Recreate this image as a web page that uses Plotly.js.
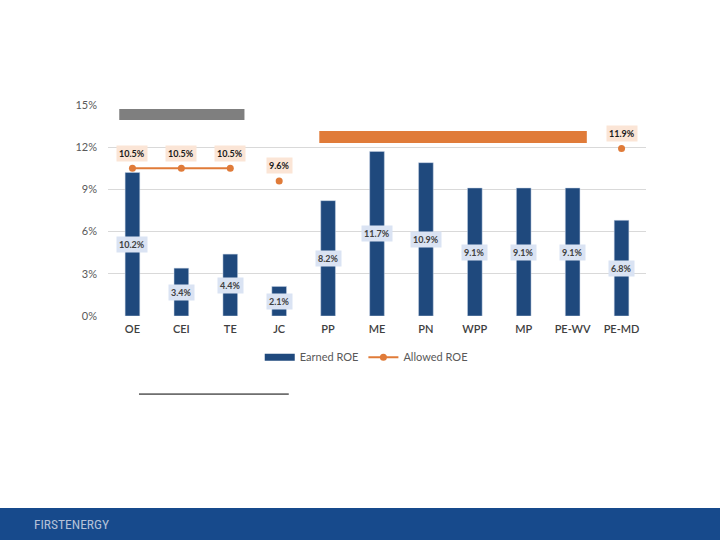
<!DOCTYPE html>
<html>
<head>
<meta charset="utf-8">
<script src="https://cdn.plot.ly/plotly-3.0.1.min.js"></script>
<style>html,body{margin:0;padding:0;background:#fff;}#chart{width:720px;height:540px;}</style>
</head>
<body>
<div id="chart"></div>
<script>
var categories = ["OE","CEI","TE","JC","PP","ME","PN","WPP","MP","PE-WV","PE-MD"];
var earnedROE = [10.2,3.4,4.4,2.1,8.2,11.7,10.9,9.1,9.1,9.1,6.8];
var allowedROE = [10.5,10.5,10.5,9.6,null,null,null,null,null,null,11.9];
var yTickVals = [0,3,6,9,12,15];
var yTickText = ["0%","3%","6%","9%","12%","15%"];

var FONT = "Lato, 'Open Sans', sans-serif";
var BLUE = "#1f497d";
var ORANGE = "#e07b39";

var lineY = allowedROE.map(function(v,i){ return i < 3 ? v : null; });
var dotY = allowedROE.map(function(v,i){ return i >= 3 ? v : null; });

var traces = [
  {type:"bar", name:"Earned ROE", x:categories, y:earnedROE, width:0.3, showlegend:false,
   marker:{color:BLUE, line:{color:"#c9d4e6", width:0.5}}, hoverinfo:"none"},
  {type:"scatter", mode:"lines", name:"Earned ROE", x:[categories[0]], y:[null],
   line:{color:BLUE, width:7}, hoverinfo:"none"},
  {type:"scatter", mode:"lines+markers", name:"Allowed ROE", x:categories, y:lineY,
   line:{color:ORANGE, width:2}, marker:{color:ORANGE, size:7}, connectgaps:false,
   legendgroup:"a", hoverinfo:"none"},
  {type:"scatter", mode:"markers", name:"Allowed ROE", x:categories, y:dotY,
   marker:{color:ORANGE, size:7}, showlegend:false, legendgroup:"a", hoverinfo:"none"}
];

var annotations = [];
earnedROE.forEach(function(v,i){
  annotations.push({x:categories[i], y:v/2, xref:"x", yref:"y", text:"<b>"+v.toFixed(1)+"%</b>",
    showarrow:false, bgcolor:"#dae3f3", borderpad:2,
    font:{family:FONT, size:9, color:"#404040"}});
});
allowedROE.forEach(function(v,i){
  if (v === null) return;
  annotations.push({x:categories[i], y:v, xref:"x", yref:"y", yshift:15, text:"<b>"+v.toFixed(1)+"%</b>",
    showarrow:false, bgcolor:"#fbe5d6", borderpad:2,
    font:{family:FONT, size:9, color:"#1a1a1a"}});
});
annotations.push({xref:"paper", yref:"paper", x:-0.142, y:-0.985, xanchor:"left", yanchor:"middle",
  text:"FIRSTENERGY", showarrow:false,
  font:{family:"'Liberation Sans Narrow', 'Roboto Condensed', Roboto, sans-serif", size:13.5, color:"#b4c1d8"}});

var shapes = [
  {type:"rect", xref:"x", yref:"y", x0:-0.27, x1:2.29, y0:13.93, y1:14.72,
   fillcolor:"#7f7f7f", line:{width:0}, layer:"above"},
  {type:"rect", xref:"x", yref:"y", x0:3.82, x1:9.29, y0:12.30, y1:13.15,
   fillcolor:ORANGE, line:{width:0}, layer:"above"},
  {type:"line", xref:"paper", yref:"paper", x0:0.0576, x1:0.336, y0:-0.370, y1:-0.370,
   line:{color:"#000000", width:1}},
  {type:"rect", xref:"paper", yref:"paper", x0:-0.21, x1:1.15, y0:-0.91, y1:-1.07,
   fillcolor:"#174a8c", line:{width:0}}
];

var layout = {
  width:720, height:540,
  margin:{l:108, r:74, t:105, b:224},
  paper_bgcolor:"#ffffff", plot_bgcolor:"#ffffff",
  font:{family:FONT, size:10, color:"#595959"},
  bargap:0.7,
  xaxis:{type:"category", range:[-0.5,10.5], showgrid:false, zeroline:false,
    showline:false, ticks:"", ticklabelstandoff:5,
    tickfont:{family:FONT, size:11, color:"#404040", weight:600}, fixedrange:true},
  yaxis:{range:[0,15], tickvals:yTickVals, ticktext:yTickText, showgrid:true,
    gridcolor:"#d9d9d9", gridwidth:1, zeroline:false, showline:false, ticks:"",
    ticklabelstandoff:10, tickfont:{family:FONT, size:11, color:"#595959"}, fixedrange:true},
  showlegend:true,
  legend:{orientation:"h", x:0.48, xanchor:"center", y:-0.195, yanchor:"middle",
    font:{family:FONT, size:11, color:"#595959"}, itemwidth:30, traceorder:"normal"},
  annotations:annotations,
  shapes:shapes
};

Plotly.newPlot("chart", traces, layout, {displayModeBar:false, staticPlot:true});
</script>
</body>
</html>
